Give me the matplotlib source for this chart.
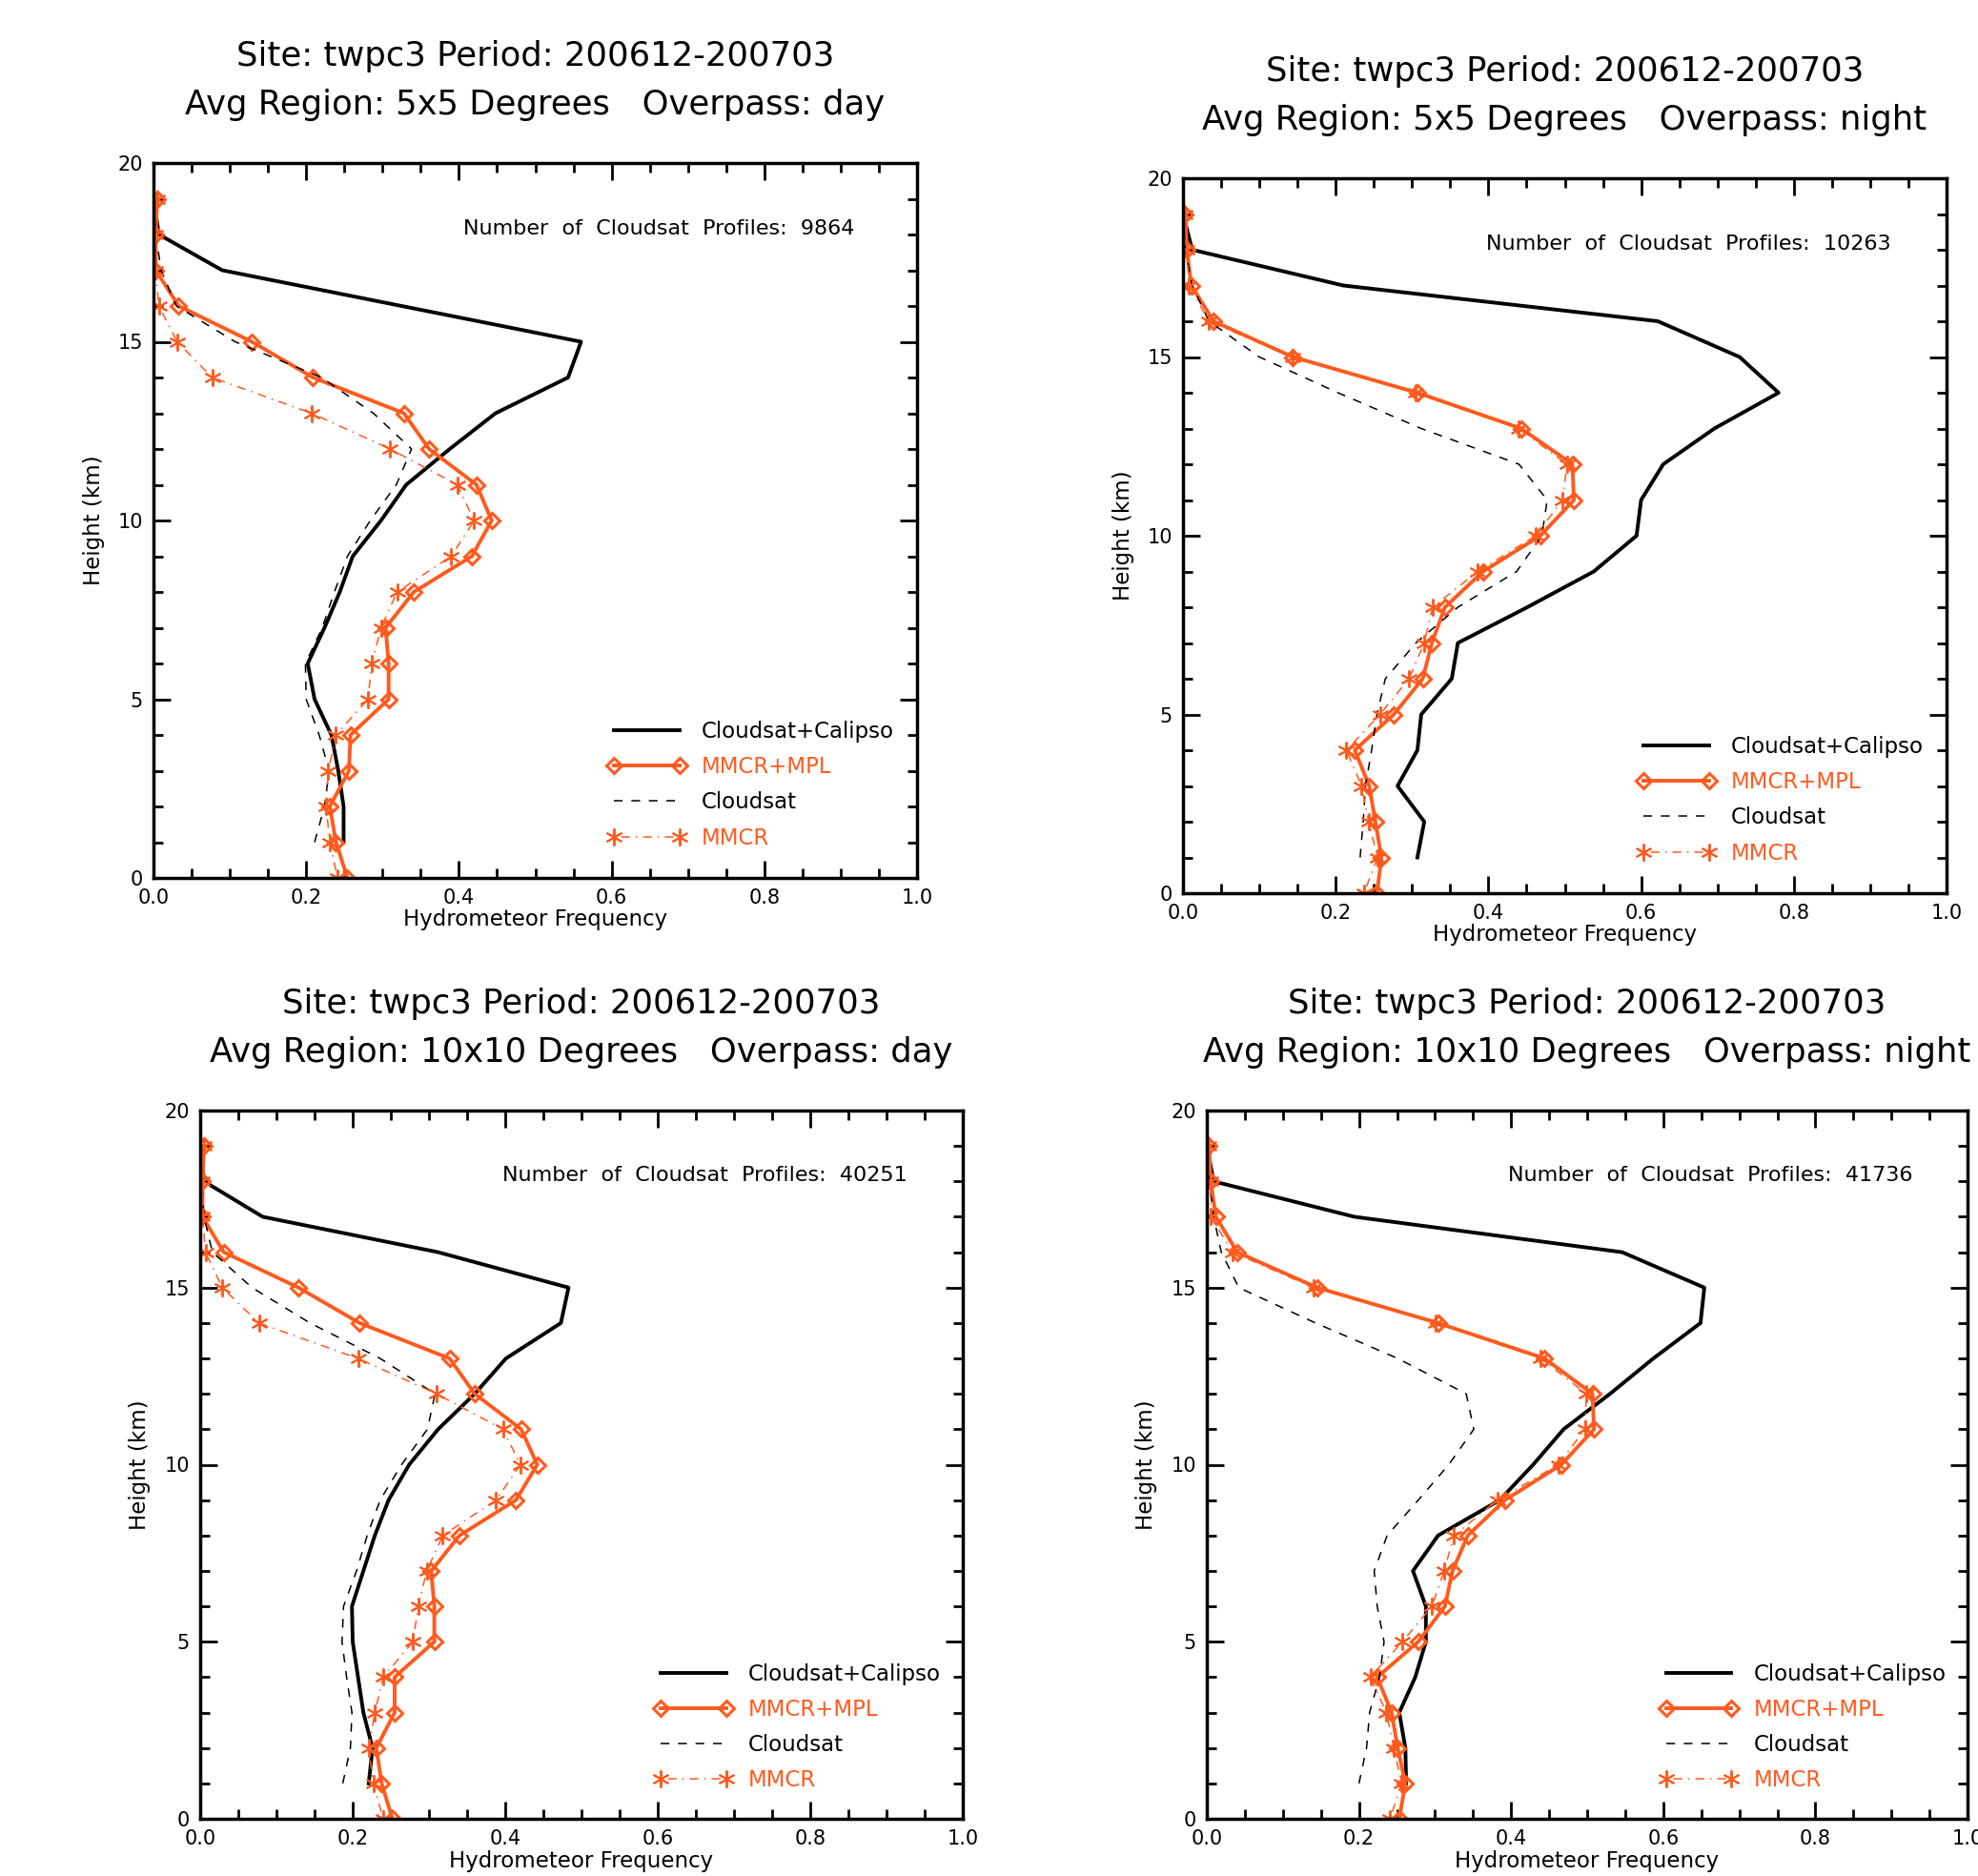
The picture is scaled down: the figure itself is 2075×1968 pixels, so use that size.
import numpy as np
import matplotlib
matplotlib.use("Agg")
import matplotlib.pyplot as plt

plt.rcParams['font.family'] = ['DejaVu Sans']

# heights (km)
h_radar = list(range(0, 20))   # MMCR / MMCR+MPL: 0..19
h_sat = list(range(1, 20))     # Cloudsat / Cloudsat+Calipso: 1..19

titles = [
    ("Site: twpc3 Period: 200612-200703", "Avg Region: 5x5 Degrees   Overpass: day"),
    ("Site: twpc3 Period: 200612-200703", "Avg Region: 5x5 Degrees   Overpass: night"),
    ("Site: twpc3 Period: 200612-200703", "Avg Region: 10x10 Degrees   Overpass: day"),
    ("Site: twpc3 Period: 200612-200703", "Avg Region: 10x10 Degrees   Overpass: night"),
]
n_profiles = [9864, 10263, 40251, 41736]

# Cloudsat+Calipso, heights 1..19
cc_vals = [
    [0.249, 0.249, 0.242, 0.233, 0.211, 0.202, 0.224, 0.244, 0.261, 0.298,
     0.331, 0.388, 0.448, 0.543, 0.560, 0.325, 0.090, 0.007, 0.0],
    [0.307, 0.316, 0.281, 0.307, 0.312, 0.352, 0.360, 0.451, 0.538, 0.594,
     0.600, 0.629, 0.696, 0.780, 0.729, 0.622, 0.210, 0.012, 0.0],
    [0.221, 0.226, 0.214, 0.207, 0.200, 0.199, 0.214, 0.229, 0.247, 0.274,
     0.312, 0.360, 0.401, 0.473, 0.483, 0.312, 0.082, 0.005, 0.0],
    [0.262, 0.261, 0.253, 0.274, 0.288, 0.288, 0.271, 0.304, 0.385, 0.429,
     0.469, 0.530, 0.587, 0.649, 0.654, 0.546, 0.194, 0.009, 0.0],
]

# Cloudsat only, heights 1..19
cs_vals = [
    [0.211, 0.224, 0.230, 0.217, 0.200, 0.199, 0.221, 0.237, 0.254, 0.284,
     0.318, 0.338, 0.288, 0.220, 0.107, 0.030, 0.010, 0.003, 0.0],
    [0.232, 0.236, 0.239, 0.247, 0.254, 0.265, 0.305, 0.360, 0.437, 0.470,
     0.477, 0.440, 0.312, 0.203, 0.100, 0.034, 0.012, 0.003, 0.0],
    [0.187, 0.197, 0.199, 0.192, 0.186, 0.188, 0.205, 0.219, 0.236, 0.264,
     0.298, 0.308, 0.236, 0.144, 0.068, 0.016, 0.005, 0.002, 0.0],
    [0.200, 0.210, 0.214, 0.227, 0.233, 0.224, 0.220, 0.237, 0.278, 0.318,
     0.351, 0.341, 0.251, 0.143, 0.042, 0.019, 0.009, 0.003, 0.0],
]

# MMCR+MPL, heights 0..19
mm_mpl_vals = [
    [0.254, 0.239, 0.231, 0.256, 0.258, 0.308, 0.308, 0.304, 0.341, 0.417,
     0.443, 0.423, 0.361, 0.328, 0.209, 0.129, 0.033, 0.003, 0.003, 0.005],
    [0.254, 0.260, 0.252, 0.244, 0.225, 0.276, 0.314, 0.326, 0.343, 0.393,
     0.468, 0.512, 0.510, 0.443, 0.307, 0.144, 0.040, 0.011, 0.005, 0.003],
    [0.252, 0.238, 0.231, 0.255, 0.255, 0.307, 0.307, 0.303, 0.340, 0.414,
     0.442, 0.421, 0.360, 0.327, 0.209, 0.129, 0.031, 0.003, 0.003, 0.005],
    [0.253, 0.261, 0.251, 0.243, 0.224, 0.278, 0.313, 0.323, 0.343, 0.392,
     0.466, 0.509, 0.507, 0.444, 0.304, 0.145, 0.040, 0.012, 0.005, 0.003],
]

# MMCR only, heights 0..19
mm_vals = [
    [0.241, 0.231, 0.226, 0.229, 0.239, 0.281, 0.286, 0.298, 0.319, 0.390,
     0.420, 0.398, 0.310, 0.207, 0.077, 0.031, 0.007, 0.003, 0.003, 0.005],
    [0.237, 0.255, 0.243, 0.234, 0.214, 0.258, 0.296, 0.316, 0.327, 0.386,
     0.462, 0.497, 0.503, 0.440, 0.304, 0.143, 0.034, 0.008, 0.005, 0.003],
    [0.240, 0.227, 0.221, 0.229, 0.240, 0.279, 0.286, 0.297, 0.318, 0.388,
     0.420, 0.397, 0.310, 0.207, 0.077, 0.029, 0.007, 0.003, 0.003, 0.005],
    [0.241, 0.256, 0.246, 0.236, 0.215, 0.257, 0.296, 0.312, 0.325, 0.382,
     0.462, 0.497, 0.499, 0.439, 0.301, 0.140, 0.034, 0.005, 0.005, 0.003],
]

orange = '#ff5a1e'

fig = plt.figure(figsize=(20.75, 19.68), dpi=100)
W, H = 2075, 1968
# axes boxes in pixels: left, right, top, bottom
boxes = [(161, 962, 171, 921), (1241, 2042, 187, 937),
         (210, 1010, 1165, 1908), (1266, 2064, 1165, 1908)]

for i, (l, r, t, b) in enumerate(boxes):
    ax = fig.add_axes([l / W, 1 - b / H, (r - l) / W, (b - t) / H])

    ax.plot(cc_vals[i], h_sat, color='black', lw=2.8, label='Cloudsat+Calipso')
    ax.plot(mm_mpl_vals[i], h_radar, color=orange, lw=2.8, marker='D', ms=8,
            mfc='none', mec=orange, mew=2.2, label='MMCR+MPL')
    ax.plot(cs_vals[i], h_sat, color='black', lw=1.1, ls=(0, (6, 6)), label='Cloudsat')
    ax.plot(mm_vals[i], h_radar, color=orange, lw=1.1, ls=(0, (1, 4, 6, 4)),
            marker=(6, 2, 0), ms=13, mew=1.4, label='MMCR')

    ax.set_xlim(0, 1)
    ax.set_ylim(0, 20)
    ax.set_xticks(np.arange(0, 1.01, 0.2))
    ax.set_xticks(np.arange(0, 1.001, 0.05), minor=True)
    ax.set_yticks([0, 5, 10, 15, 20])
    ax.set_yticks(range(0, 21), minor=True)
    ax.set_xticklabels(['0.0', '0.2', '0.4', '0.6', '0.8', '1.0'])
    ax.tick_params(which='both', direction='in', top=True, right=True,
                   width=2, labelsize=15)
    ax.tick_params(which='major', length=13, pad=8)
    ax.tick_params(which='minor', length=7)
    for s in ax.spines.values():
        s.set_linewidth(2.5)

    ax.set_xlabel('Hydrometeor Frequency', fontsize=16.5, labelpad=1)
    ax.set_ylabel('Height (km)', fontsize=16.5, labelpad=10)

    ax.annotate(titles[i][1], xy=(0.5, 1), xycoords='axes fraction',
                xytext=(0, 61), textcoords='offset pixels',
                ha='center', va='center', fontsize=25.5)
    ax.annotate(titles[i][0], xy=(0.5, 1), xycoords='axes fraction',
                xytext=(0, 112), textcoords='offset pixels',
                ha='center', va='center', fontsize=25.5)

    ax.text(0.662, 0.908, 'Number  of  Cloudsat  Profiles:  %d' % n_profiles[i],
            transform=ax.transAxes, ha='center', va='center', fontsize=16)

    ax.legend(loc='upper left', bbox_to_anchor=(0.595, 0.22), frameon=False,
              fontsize=16.5, handlelength=3.6, handletextpad=0.7,
              labelspacing=0.62, numpoints=2, borderpad=0, borderaxespad=0,
              labelcolor='linecolor')

fig.savefig('out.png', dpi=100)
